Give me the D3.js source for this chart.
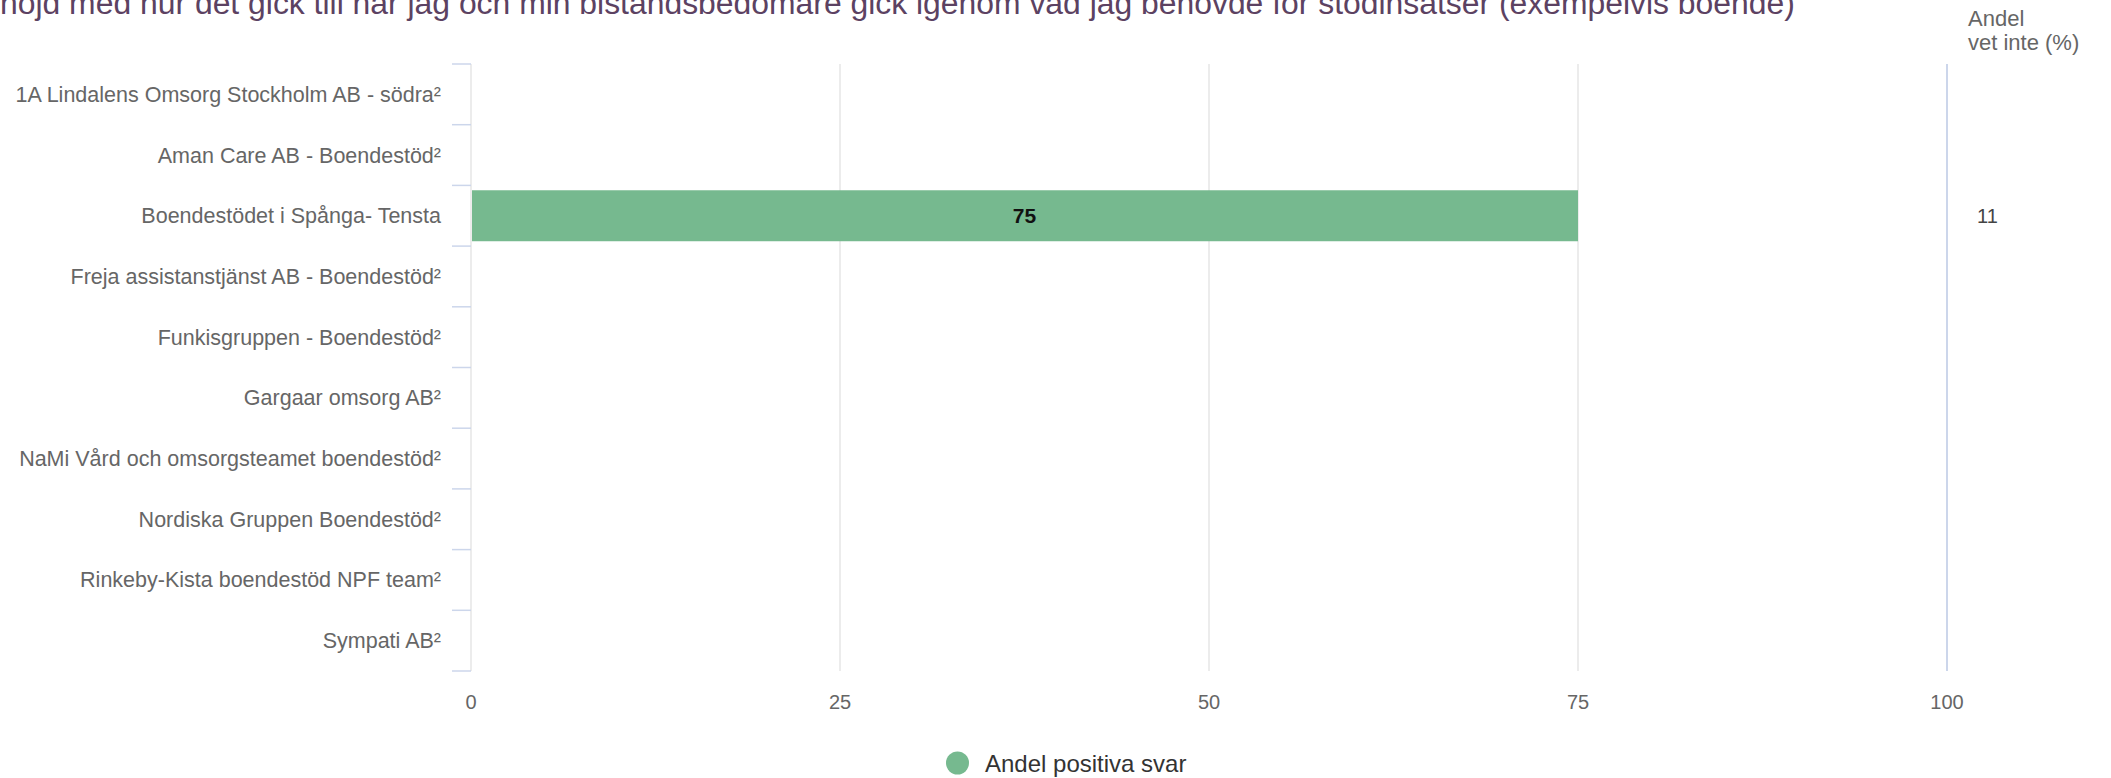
<!DOCTYPE html>
<html>
<head>
<meta charset="utf-8">
<script src="https://cdn.jsdelivr.net/npm/d3@7"></script>
<style>
  html, body { margin: 0; padding: 0; background: #ffffff; overflow: hidden; }
  svg { display: block; font-family: "Liberation Sans", Arial, sans-serif; }
</style>
</head>
<body>
<svg id="chart" width="2111" height="778"></svg>
<script>
const titleText = "nöjd med hur det gick till när jag och min biståndsbedömare gick igenom vad jag behövde för stödinsatser (exempelvis boende)";
const categories = [
  "1A Lindalens Omsorg Stockholm AB - södra²",
  "Aman Care AB - Boendestöd²",
  "Boendestödet i Spånga- Tensta",
  "Freja assistanstjänst AB - Boendestöd²",
  "Funkisgruppen - Boendestöd²",
  "Gargaar omsorg AB²",
  "NaMi Vård och omsorgsteamet boendestöd²",
  "Nordiska Gruppen Boendestöd²",
  "Rinkeby-Kista boendestöd NPF team²",
  "Sympati AB²"
];
const positiveValues = [null, null, 75, null, null, null, null, null, null, null];
const dontKnowValues = [null, null, 11, null, null, null, null, null, null, null];
const xTicks = [0, 25, 50, 75, 100];
const xDomain = [0, 100];
const seriesName = "Andel positiva svar";
const sideHeader = ["Andel", "vet inte (%)"];

const barColor = "#76b98f";
const svg = d3.select("#chart");

const x = d3.scaleLinear().domain(xDomain).range([471, 1947]);
const y = d3.scaleBand().domain(categories).range([64, 671]).paddingInner(0.16).paddingOuter(0.08);
const step = y.step();
const y0 = y.range()[0];

// Title (top clipped as in reference)
const title = svg.append("text")
  .attr("x", 0).attr("y", 14)
  .attr("fill", "#5c4262")
  .style("font-size", "30px")
  .text(titleText);
const tl = title.node().getComputedTextLength();
title.style("font-size", (30 * 1795 / tl).toFixed(2) + "px");

// Gridlines
const grid = svg.append("g");
grid.selectAll("line.g").data(xTicks.filter(d => d < 100)).join("line")
  .attr("x1", d => x(d)).attr("x2", d => x(d))
  .attr("y1", y0).attr("y2", y.range()[1])
  .attr("stroke", "#e6e6e6").attr("stroke-width", 1.5);
// Right axis line at 100
svg.append("line")
  .attr("x1", x(100)).attr("x2", x(100))
  .attr("y1", y0).attr("y2", y.range()[1])
  .attr("stroke", "#ccd6eb").attr("stroke-width", 2);

// Category ticks at band boundaries
const bounds = d3.range(categories.length + 1).map(i => y0 + i * step);
svg.append("g").selectAll("line").data(bounds).join("line")
  .attr("x1", x(0) - 19).attr("x2", x(0))
  .attr("y1", d => d).attr("y2", d => d)
  .attr("stroke", "#ccd6eb").attr("stroke-width", 1.5);

// Category labels
svg.append("g").selectAll("text").data(categories).join("text")
  .attr("x", 441)
  .attr("y", d => y(d) + y.bandwidth() / 2)
  .attr("dy", "0.35em")
  .attr("text-anchor", "end")
  .attr("fill", "#666666")
  .style("font-size", "21.5px")
  .text(d => d);

// Bars
const barData = categories.map((c, i) => ({c, v: positiveValues[i]})).filter(d => d.v != null);
svg.append("g").selectAll("rect").data(barData).join("rect")
  .attr("x", x(0) + 1)
  .attr("y", d => y(d.c))
  .attr("width", d => x(d.v) - x(0) - 1)
  .attr("height", y.bandwidth())
  .attr("fill", barColor);
svg.append("g").selectAll("text").data(barData).join("text")
  .attr("x", d => (x(0) + x(d.v)) / 2)
  .attr("y", d => y(d.c) + y.bandwidth() / 2)
  .attr("dy", "0.35em")
  .attr("text-anchor", "middle")
  .attr("fill", "#111111")
  .style("font-size", "21px")
  .style("font-weight", "bold")
  .text(d => d.v);

// X axis tick labels
svg.append("g").selectAll("text").data(xTicks).join("text")
  .attr("x", d => x(d))
  .attr("y", 709)
  .attr("text-anchor", "middle")
  .attr("fill", "#666666")
  .style("font-size", "20px")
  .text(d => d);

// Side column header and values
svg.append("text")
  .attr("x", 1968).attr("y", 26)
  .attr("fill", "#666666")
  .style("font-size", "22px")
  .selectAll("tspan").data(sideHeader).join("tspan")
  .attr("x", 1968)
  .attr("dy", (d, i) => i === 0 ? 0 : 24)
  .text(d => d);

const dkData = categories.map((c, i) => ({c, v: dontKnowValues[i]})).filter(d => d.v != null);
svg.append("g").selectAll("text").data(dkData).join("text")
  .attr("x", 1977)
  .attr("y", d => y(d.c) + y.bandwidth() / 2)
  .attr("dy", "0.35em")
  .attr("fill", "#444444")
  .style("font-size", "20px")
  .text(d => d.v);

// Legend
const lg = svg.append("g");
lg.append("circle").attr("cx", 957.5).attr("cy", 763).attr("r", 11.5).attr("fill", barColor);
lg.append("text").attr("x", 985).attr("y", 772)
  .attr("fill", "#333333")
  .style("font-size", "24px")
  .text(seriesName);
</script>
</body>
</html>
